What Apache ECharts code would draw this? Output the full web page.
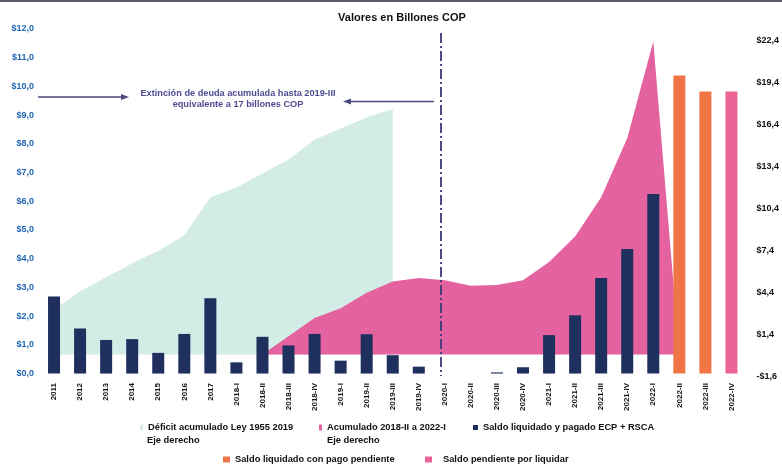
<!DOCTYPE html>
<html>
<head>
<meta charset="utf-8">
<script src="https://cdn.jsdelivr.net/npm/echarts@6/dist/echarts.min.js"></script>
<style>
  html, body { margin: 0; padding: 0; background: #ffffff; }
  #chart { width: 782px; height: 470px; }
</style>
</head>
<body>
<div id="chart"></div>
<script>
// Periods on the category axis
const categories = [
  '2011', '2012', '2013', '2014', '2015', '2016', '2017',
  '2018-I', '2018-II', '2018-III', '2018-IV',
  '2019-I', '2019-II', '2019-III', '2019-IV',
  '2020-I', '2020-II', '2020-III', '2020-IV',
  '2021-I', '2021-II', '2021-III', '2021-IV',
  '2022-I', '2022-II', '2022-III', '2022-IV'
];

// Tick labels
const leftTicks = [0, 1, 2, 3, 4, 5, 6, 7, 8, 9, 10, 11, 12];
const rightTicks = [-1.6, 1.4, 4.4, 7.4, 10.4, 13.4, 16.4, 19.4, 22.4];

// Déficit acumulado Ley 1955 2019 (eje derecho)
const deficitAcumulado = [3.2, 4.5, 5.5, 6.5, 7.4, 8.5, 11.2, 11.9, 12.9, 13.9, 15.3, 16.1, 16.9, 17.5,
  null, null, null, null, null, null, null, null, null, null, null, null, null];

// Acumulado 2018-II a 2022-I (eje derecho)
const acumulado2018a2022 = [null, null, null, null, null, null, null, null,
  0, 1.3, 2.6, 3.3, 4.4, 5.2, 5.45, 5.3, 4.9, 4.95, 5.3, 6.6, 8.4, 11.2, 15.4, 22.3, 0, null, null];

// Saldo liquidado y pagado ECP + RSCA (eje izquierdo)
const saldoPagado = [2.68, 1.57, 1.17, 1.20, 0.72, 1.38, 2.62, 0.39, 1.28, 0.98, 1.38, 0.45, 1.37, 0.64, 0.24,
  0, 0, 0.04, 0.22, 1.34, 2.03, 3.33, 4.34, 6.25, null, null, null];

// Saldo liquidado con pago pendiente
const saldoPagoPendiente = [null, null, null, null, null, null, null, null, null, null, null, null, null, null,
  null, null, null, null, null, null, null, null, null, null, 10.38, 9.82, null];

// Saldo pendiente por liquidar
const saldoPorLiquidar = [null, null, null, null, null, null, null, null, null, null, null, null, null, null,
  null, null, null, null, null, null, null, null, null, null, null, null, 9.82];

const FONT = 'Liberation Sans, Arial, sans-serif';
const C_TEAL = '#d4ece6';
const C_PINK_AREA = '#e4629f';
const C_NAVY = '#1f2f5e';
const C_ORANGE = '#ef7446';
const C_PINK_BAR = '#ec6496';
const C_NOTE = '#4d4b8f';

const fmtMoney = v => {
  const s = Math.abs(v).toFixed(1).replace('.', ',');
  return (v < 0 ? '-$' : '$') + s;
};

const legendText = { fontFamily: FONT, fontSize: 9.3, fontWeight: 'bold', color: '#111' };

const chart = echarts.init(document.getElementById('chart'), null, { renderer: 'canvas' });

chart.setOption({
  animation: false,
  backgroundColor: '#ffffff',
  title: {
    text: 'Valores en Billones COP',
    left: 397, top: 7, textAlign: 'center',
    textStyle: { fontFamily: FONT, fontSize: 11, fontWeight: 'bold', color: '#111' }
  },
  grid: { left: 41, right: 31, top: 29, bottom: 93 },
  xAxis: {
    type: 'category',
    data: categories,
    axisLine: { show: false },
    axisTick: { show: false },
    axisLabel: {
      rotate: 90, interval: 0, margin: 6,
      fontFamily: FONT, fontSize: 8, fontWeight: 'bold', color: '#151515'
    }
  },
  yAxis: [
    {
      type: 'value', min: -0.12, max: 12,
      splitLine: { show: false }, axisLine: { show: false }, axisTick: { show: false },
      axisLabel: {
        customValues: leftTicks, formatter: fmtMoney, margin: 7,
        fontFamily: FONT, fontSize: 9, fontWeight: 'bold', color: '#1d64b3'
      }
    },
    {
      type: 'value', min: -1.6, max: 23.19,
      splitLine: { show: false }, axisLine: { show: false }, axisTick: { show: false },
      axisLabel: {
        customValues: rightTicks, formatter: fmtMoney, margin: 12,
        fontFamily: FONT, fontSize: 9, fontWeight: 'bold', color: '#111'
      }
    }
  ],
  legend: [
    {
      left: 140, top: 423, padding: 0, itemWidth: 3, itemHeight: 6,
      icon: 'rect', data: ['Déficit acumulado Ley 1955 2019'], textStyle: legendText
    },
    {
      left: 319, top: 423, padding: 0, itemWidth: 3, itemHeight: 6,
      icon: 'rect', data: ['Acumulado 2018-II a 2022-I'], textStyle: legendText
    },
    {
      left: 473, top: 423, padding: 0, itemWidth: 5, itemHeight: 5,
      icon: 'rect', data: ['Saldo liquidado y pagado ECP + RSCA'], textStyle: legendText
    },
    {
      left: 223, top: 455, padding: 0, itemWidth: 7, itemHeight: 6,
      icon: 'rect', data: ['Saldo liquidado con pago pendiente'], textStyle: legendText
    },
    {
      left: 425, top: 455, padding: 0, itemWidth: 7, itemHeight: 6,
      icon: 'rect', data: ['Saldo pendiente por liquidar'],
      textStyle: Object.assign({ padding: [0, 0, 0, 6] }, legendText)
    }
  ],
  series: [
    {
      name: 'Déficit acumulado Ley 1955 2019',
      type: 'line', yAxisIndex: 1, data: deficitAcumulado,
      symbol: 'none', lineStyle: { width: 0 }, itemStyle: { color: C_TEAL },
      areaStyle: { color: C_TEAL, opacity: 1 }, z: 1
    },
    {
      name: 'Acumulado 2018-II a 2022-I',
      type: 'line', yAxisIndex: 1, data: acumulado2018a2022,
      symbol: 'none', lineStyle: { width: 0 }, itemStyle: { color: C_PINK_AREA },
      areaStyle: { color: C_PINK_AREA, opacity: 1 }, z: 2
    },
    {
      name: 'Saldo liquidado y pagado ECP + RSCA',
      type: 'bar', yAxisIndex: 0, data: saldoPagado,
      barWidth: 12, barGap: '-100%', itemStyle: { color: C_NAVY }, z: 3
    },
    {
      name: 'Saldo liquidado con pago pendiente',
      type: 'bar', yAxisIndex: 0, data: saldoPagoPendiente,
      barWidth: 12, barGap: '-100%', itemStyle: { color: C_ORANGE }, z: 3
    },
    {
      name: 'Saldo pendiente por liquidar',
      type: 'bar', yAxisIndex: 0, data: saldoPorLiquidar,
      barWidth: 12, barGap: '-100%', itemStyle: { color: C_PINK_BAR }, z: 3
    }
  ],
  graphic: [
    // top rule of the page
    { type: 'rect', shape: { x: 0, y: 0, width: 782, height: 2 }, style: { fill: '#5a5a6a' } },
    // divider between 2019 and 2020
    {
      type: 'line', z: 10,
      shape: { x1: 441, y1: 33, x2: 441, y2: 376 },
      style: { stroke: '#3a3a78', lineWidth: 1.8, lineDash: [10, 3, 2, 3] }
    },
    // note with arrows
    {
      type: 'text', x: 238, y: 93,
      style: {
        text: 'Extinción de deuda acumulada hasta 2019-III', textAlign: 'center', textVerticalAlign: 'middle',
        fontFamily: FONT, fontSize: 9.2, fontWeight: 'bold', fill: C_NOTE
      }
    },
    {
      type: 'text', x: 238, y: 104,
      style: {
        text: 'equivalente a 17 billones COP', textAlign: 'center', textVerticalAlign: 'middle',
        fontFamily: FONT, fontSize: 9.2, fontWeight: 'bold', fill: C_NOTE
      }
    },
    { type: 'line', shape: { x1: 38, y1: 97, x2: 124, y2: 97 }, style: { stroke: '#4a4a7e', lineWidth: 1.5 } },
    { type: 'polygon', shape: { points: [[121, 94], [129, 97], [121, 100]] }, style: { fill: '#4a4a7e' } },
    { type: 'line', shape: { x1: 348, y1: 101.5, x2: 434, y2: 101.5 }, style: { stroke: '#4a4a7e', lineWidth: 1.5 } },
    { type: 'polygon', shape: { points: [[351, 98.5], [343, 101.5], [351, 104.5]] }, style: { fill: '#4a4a7e' } },
    // second lines of the two area legends
    {
      type: 'text', x: 147, y: 440,
      style: { text: 'Eje derecho', textVerticalAlign: 'middle', fontFamily: FONT, fontSize: 9.3, fontWeight: 'bold', fill: '#111' }
    },
    {
      type: 'text', x: 327, y: 440,
      style: { text: 'Eje derecho', textVerticalAlign: 'middle', fontFamily: FONT, fontSize: 9.3, fontWeight: 'bold', fill: '#111' }
    }
  ]
});
</script>
</body>
</html>
